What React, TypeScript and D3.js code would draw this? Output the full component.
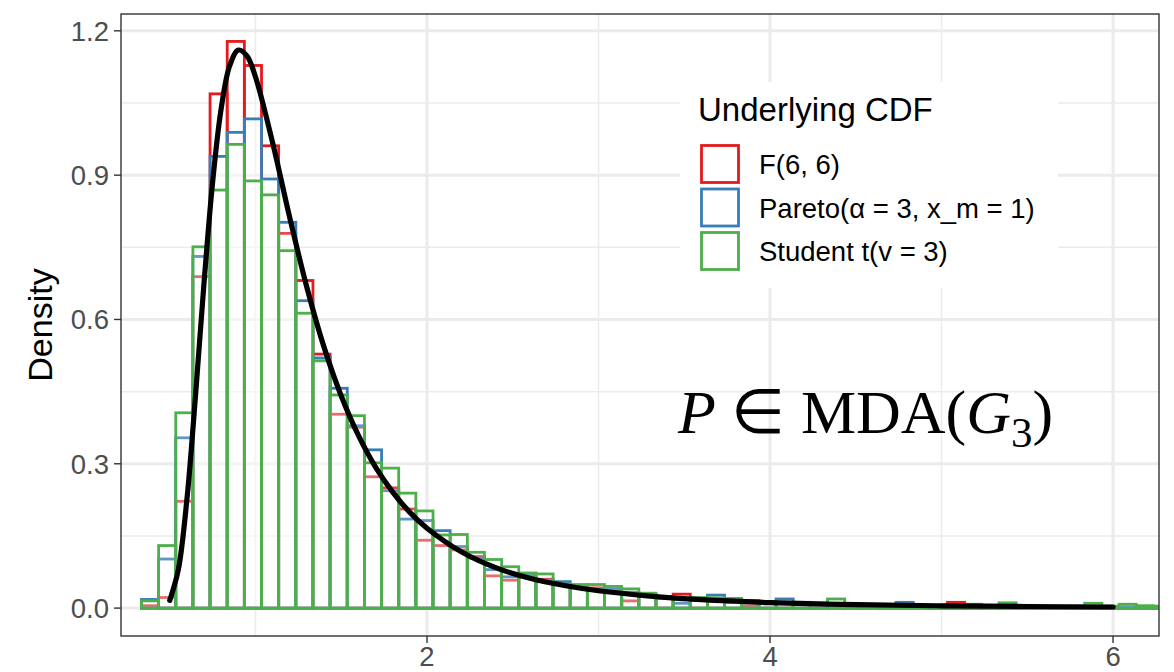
import React from "react";
import * as d3 from "d3";

// ---------- data ----------
const binStart = 0.335;
const binWidth = 0.1;
const redF66 = [0.005, 0.022, 0.222, 0.689, 1.069, 1.178, 1.128, 0.961, 0.779, 0.681, 0.528, 0.403, 0.376, 0.273, 0.25, 0.206, 0.141, 0.13, 0.121, 0.107, 0.067, 0.058, 0.065, 0.06, 0.05, 0.045, 0.042, 0.038, 0.015, 0.028, 0.022, 0.029, 0.018, 0.015, 0.012, 0.005, 0.012, 0.01, 0.008, 0.009, 0.007, 0.008, 0.006, 0.006, 0.005, 0.005, 0.004, 0.012, 0.004, 0.004, 0.003, 0.003, 0.003, 0.003, 0.002, 0.003, 0.002, 0.002, 0.002, 0.001];
const bluePareto = [0.018, 0.102, 0.354, 0.731, 0.939, 0.989, 1.017, 0.892, 0.802, 0.639, 0.52, 0.457, 0.379, 0.329, 0.244, 0.185, 0.182, 0.161, 0.128, 0.104, 0.08, 0.065, 0.069, 0.058, 0.055, 0.044, 0.041, 0.04, 0.033, 0.027, 0.02, 0.01, 0.016, 0.027, 0.015, 0.012, 0.01, 0.019, 0.012, 0.009, 0.008, 0.007, 0.006, 0.005, 0.012, 0.005, 0.005, 0.004, 0.004, 0.003, 0.004, 0.003, 0.003, 0.002, 0.003, 0.002, 0.002, 0.002, 0.002, 0.001];
const greenStudent = [0.015, 0.13, 0.406, 0.751, 0.869, 0.964, 0.888, 0.859, 0.743, 0.613, 0.514, 0.443, 0.4, 0.302, 0.291, 0.239, 0.202, 0.152, 0.153, 0.116, 0.101, 0.086, 0.073, 0.071, 0.05, 0.049, 0.049, 0.045, 0.04, 0.031, 0.024, 0.02, 0.022, 0.021, 0.02, 0.016, 0.013, 0.012, 0.01, 0.01, 0.019, 0.009, 0.008, 0.007, 0.007, 0.006, 0.006, 0.006, 0.008, 0.005, 0.011, 0.005, 0.004, 0.004, 0.004, 0.01, 0.004, 0.008, 0.005, 0.004];

const curveX = [0.5, 0.55, 0.6, 0.65, 0.7, 0.75, 0.8, 0.85, 0.9, 0.95, 1.0, 1.1, 1.2, 1.3, 1.4, 1.5, 1.6, 1.7, 1.8, 1.9, 2.0, 2.2, 2.4, 2.6, 2.8, 3.0, 3.3, 3.6, 4.0, 4.5, 5.0, 5.5, 6.0];
const curveY = [0.016, 0.08, 0.226, 0.441, 0.677, 0.886, 1.039, 1.128, 1.16, 1.148, 1.104, 0.967, 0.811, 0.666, 0.542, 0.441, 0.359, 0.293, 0.241, 0.199, 0.166, 0.117, 0.084, 0.062, 0.047, 0.036, 0.025, 0.0175, 0.0115, 0.0072, 0.0048, 0.0033, 0.0023];

const xTicks = [2, 4, 6];
const xMinor = [1, 3, 5];
const yTicks = [0, 0.3, 0.6, 0.9, 1.2];
const yMinor = [0.15, 0.45, 0.75, 1.05];

const seriesNames = ["F(6, 6)", "Pareto(\u03b1 = 3, x_m = 1)", "Student t(v = 3)"];
const seriesColors = ["#E41A1C", "#377EB8", "#4DAF4A"];
const seriesValues = [redF66, bluePareto, greenStudent];
const legendTitle = "Underlying CDF";
const yTitle = "Density";

// ---------- layout ----------
const W = 1174, H = 672;
const P = { left: 121, right: 1159, top: 14, bottom: 636 };

export default function App() {
  const x = d3.scaleLinear().domain([0.2157, 6.268]).range([P.left, P.right]);
  const y = d3.scaleLinear().domain([-0.058, 1.235]).range([P.bottom, P.top]);
  const line = d3
    .line<number>()
    .x((_, i) => x(curveX[i]))
    .y((d) => y(d))
    .curve(d3.curveCatmullRom.alpha(0.5));
  const grid = "#EBEBEB";
  const axisCol = "#333333";
  const font = "Liberation Sans, Arial, Helvetica, sans-serif";
  const legX = 680, legY = 82, legW = 378, legH = 206;
  const keyX = 700, keyY0 = 144, keyStep = 43.5, keySize = 40;

  return (
    <svg width={W} height={H} style={{ position: "absolute", left: 0, top: 0, background: "#fff" }} fontFamily={font}>
      <defs>
        <clipPath id="panel">
          <rect x={P.left} y={P.top} width={P.right - P.left} height={P.bottom - P.top} />
        </clipPath>
      </defs>
      <rect x={0} y={0} width={W} height={H} fill="#fff" />
      {/* grid */}
      <g>
        {yMinor.map((v) => (
          <line key={"ym" + v} x1={P.left} x2={P.right} y1={y(v)} y2={y(v)} stroke={grid} strokeWidth={1.5} />
        ))}
        {xMinor.map((v) => (
          <line key={"xm" + v} y1={P.top} y2={P.bottom} x1={x(v)} x2={x(v)} stroke={grid} strokeWidth={1.5} />
        ))}
        {yTicks.map((v) => (
          <line key={"yM" + v} x1={P.left} x2={P.right} y1={y(v)} y2={y(v)} stroke={grid} strokeWidth={3} />
        ))}
        {xTicks.map((v) => (
          <line key={"xM" + v} y1={P.top} y2={P.bottom} x1={x(v)} x2={x(v)} stroke={grid} strokeWidth={3} />
        ))}
      </g>
      {/* histograms */}
      <g clipPath="url(#panel)">
        {seriesValues.map((vals, s) => (
          <g key={s}>
            {vals.map((v, i) => {
              const x0 = x(binStart + i * binWidth);
              const x1 = x(binStart + (i + 1) * binWidth);
              return (
                <rect
                  key={i}
                  x={x0}
                  y={y(v)}
                  width={x1 - x0}
                  height={y(0) - y(v)}
                  fill="#ffffff"
                  fillOpacity={0.2}
                  stroke={seriesColors[s]}
                  strokeWidth={2.8}
                />
              );
            })}
          </g>
        ))}
        <path d={line(curveY) || ""} fill="none" stroke="#000" strokeWidth={5.2} strokeLinecap="round" />
      </g>
      {/* legend */}
      <rect x={legX} y={legY} width={legW} height={legH} fill="#fff" />
      <text x={698} y={121} fontSize={33} fill="#000">{legendTitle}</text>
      {seriesNames.map((n, i) => (
        <g key={n}>
          <rect x={keyX + 1.5} y={keyY0 + i * keyStep + 1.5} width={keySize - 3} height={keySize - 3} fill="#fff" stroke={seriesColors[i]} strokeWidth={2.8} />
          <text x={759} y={keyY0 + i * keyStep + keySize / 2 + 10} fontSize={27.5} fill="#000">{n}</text>
        </g>
      ))}
      {/* annotation */}
      <text x={678} y={433} fontSize={62} fontFamily="Liberation Serif, Times New Roman, serif" fill="#000">
        <tspan fontStyle="italic">P</tspan>
        <tspan>{" \u2208 MDA("}</tspan>
        <tspan fontStyle="italic">G</tspan>
        <tspan fontSize={43} dy={14}>3</tspan>
        <tspan dy={-14}>)</tspan>
      </text>
      {/* panel border */}
      <rect x={P.left} y={P.top} width={P.right - P.left} height={P.bottom - P.top} fill="none" stroke={axisCol} strokeWidth={1.4} />
      {/* y axis */}
      {yTicks.map((v) => (
        <g key={"yt" + v}>
          <line x1={P.left - 7} x2={P.left} y1={y(v)} y2={y(v)} stroke={axisCol} strokeWidth={1.4} />
          <text x={P.left - 12} y={y(v) + 9.8} fontSize={27.5} fill="#4D4D4D" textAnchor="end">
            {d3.format(".1f")(v)}
          </text>
        </g>
      ))}
      {/* x axis */}
      {xTicks.map((v) => (
        <g key={"xt" + v}>
          <line x1={x(v)} x2={x(v)} y1={P.bottom} y2={P.bottom + 7} stroke={axisCol} strokeWidth={1.4} />
          <text x={x(v)} y={P.bottom + 30} fontSize={27.5} fill="#4D4D4D" textAnchor="middle">
            {String(v)}
          </text>
        </g>
      ))}
      <text transform={`translate(52, ${(P.top + P.bottom) / 2}) rotate(-90)`} fontSize={34} textAnchor="middle" fill="#000">
        {yTitle}
      </text>
    </svg>
  );
}
